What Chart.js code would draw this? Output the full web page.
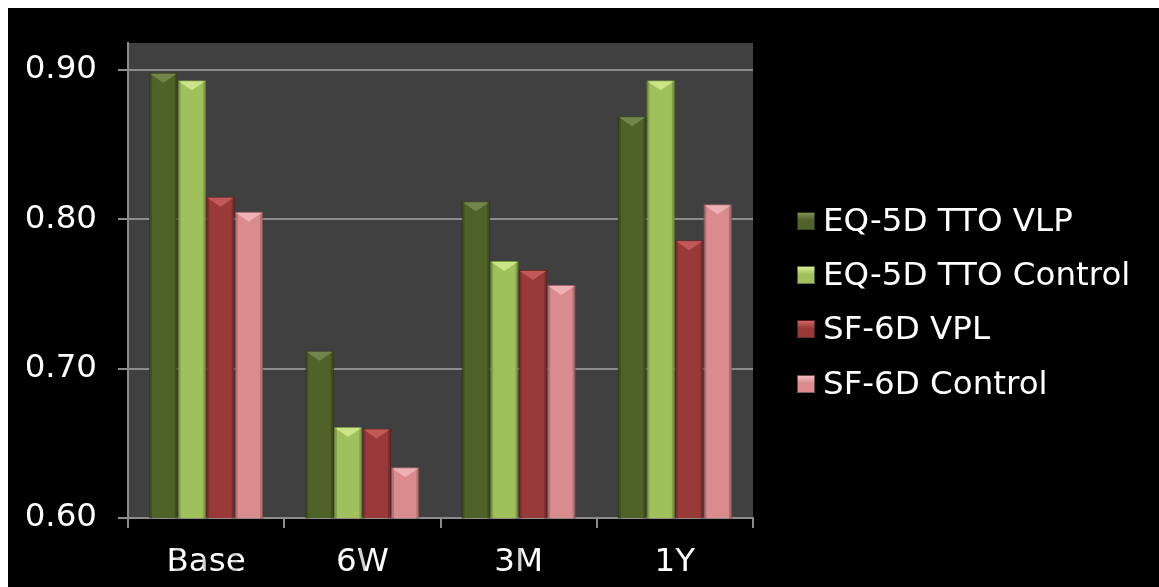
<!DOCTYPE html>
<html>
<head>
<meta charset="utf-8">
<script src="https://cdn.jsdelivr.net/npm/chart.js@4/dist/chart.umd.min.js"></script>
<style>
  body { margin: 0; background: #fff; }
  #wrap { position: absolute; left: 8px; top: 8px; width: 1151px; height: 579px; background: #000; }
  #chart { position: absolute; left: 0; top: 0; }
  .item { position: absolute; left: 789px; height: 36px; line-height: 36px; white-space: nowrap;
          font-family: 'DejaVu Sans', Verdana, sans-serif; font-size: 32.5px; color: #fff; }
  .item span.box { position: absolute; left: 0; top: 10px; width: 16px; height: 16px; border: 1px solid rgba(0,0,0,0.5); }
  .item span.txt { position: absolute; left: 26px; top: 0; }
</style>
</head>
<body>
<div id="wrap">
  <canvas id="chart" width="1151" height="579"></canvas>
  <div id="legend"></div>
</div>
<script>
// chart data
const categories = ['Base', '6W', '3M', '1Y'];
const seriesNames = ['EQ-5D TTO VLP', 'EQ-5D TTO Control', 'SF-6D VPL', 'SF-6D Control'];
const eqVlp = [0.898, 0.712, 0.812, 0.869];
const eqControl = [0.893, 0.661, 0.772, 0.893];
const sfVpl = [0.815, 0.660, 0.766, 0.786];
const sfControl = [0.805, 0.634, 0.756, 0.810];
const yMin = 0.60;
const yMax = 0.918;
const yStep = 0.10;

// colours per series: fill, highlight
const fills = ['#4f6228', '#a0c05c', '#9a3a38', '#d98b8e'];
const lights = ['#7d9257', '#d9f094', '#cf6462', '#f4bcbf'];
const edges = ['#3b4a1d', '#7d9a43', '#732826', '#a8676a'];

const gridColor = '#8c8c8c';
const tickFont = { family: 'DejaVu Sans', size: 32.5 };

// dark plot area
const plotBg = {
  id: 'plotBg',
  beforeDraw(chart) {
    const { ctx, chartArea: a } = chart;
    ctx.save();
    ctx.fillStyle = '#404040';
    ctx.fillRect(a.left, a.top, a.right - a.left, a.bottom - a.top);
    ctx.restore();
  }
};

// bevel look on top of each bar
const bevel = {
  id: 'bevel',
  afterDatasetsDraw(chart) {
    const ctx = chart.ctx;
    chart.data.datasets.forEach((ds, i) => {
      chart.getDatasetMeta(i).data.forEach(bar => {
        const { x, y, base, width } = bar.getProps(['x', 'y', 'base', 'width'], true);
        const l = x - width / 2, r = x + width / 2;
        const h = Math.min(10, base - y);
        ctx.save();
        // side shading
        ctx.fillStyle = 'rgba(0,0,0,0.18)';
        ctx.fillRect(l, y, 3, base - y);
        ctx.fillRect(r - 3, y, 3, base - y);
        // top triangle
        ctx.fillStyle = lights[i];
        ctx.globalAlpha = 0.75;
        ctx.beginPath();
        ctx.moveTo(l + 1, y + 1);
        ctx.lineTo(r - 1, y + 1);
        ctx.lineTo(x, y + h);
        ctx.closePath();
        ctx.fill();
        ctx.restore();
      });
    });
  }
};

const series = [eqVlp, eqControl, sfVpl, sfControl];

const data = {
  labels: categories,
  datasets: series.map((vals, i) => ({
    label: seriesNames[i],
    data: vals,
    backgroundColor: fills[i],
    borderColor: edges[i],
    borderWidth: 1,
    categoryPercentage: 0.73,
    barPercentage: 1.0
  }))
};

const config = {
  type: 'bar',
  data: data,
  options: {
    responsive: false,
    animation: false,
    devicePixelRatio: 1,
    layout: { padding: { left: 19, right: 406, top: 35, bottom: 9 } },
    plugins: {
      legend: { display: false },
      tooltip: { enabled: false }
    },
    scales: {
      x: {
        grid: { drawOnChartArea: false, color: gridColor, lineWidth: 2, tickLength: 10, offset: true },
        border: { color: gridColor, width: 2 },
        ticks: { color: '#fff', font: tickFont, padding: 15 },
        afterFit: s => { s.height = 60; s.paddingLeft = 0; s.paddingRight = 0; }
      },
      y: {
        min: yMin,
        max: yMax,
        grid: { color: gridColor, lineWidth: 2, tickLength: 10 },
        border: { color: gridColor, width: 2 },
        ticks: {
          stepSize: yStep,
          includeBounds: false,
          color: '#fff',
          font: tickFont,
          padding: 21,
          callback: v => v.toFixed(2)
        },
        afterFit: s => { s.width = 101; s.paddingTop = 0; s.paddingBottom = 0; }
      }
    }
  },
  plugins: [plotBg, bevel]
};

new Chart(document.getElementById('chart'), config);

// legend built from the series names
const legend = document.getElementById('legend');
const legendTops = [194, 248, 302, 357];
seriesNames.forEach((name, i) => {
  const item = document.createElement('div');
  item.className = 'item';
  item.style.top = legendTops[i] + 'px';
  item.innerHTML = '<span class="box" style="background: linear-gradient(180deg,' + lights[i] + ' 0%,' + fills[i] + ' 45%,' + fills[i] + ' 100%)"></span><span class="txt">' + name + '</span>';
  legend.appendChild(item);
});
</script>
</body>
</html>
